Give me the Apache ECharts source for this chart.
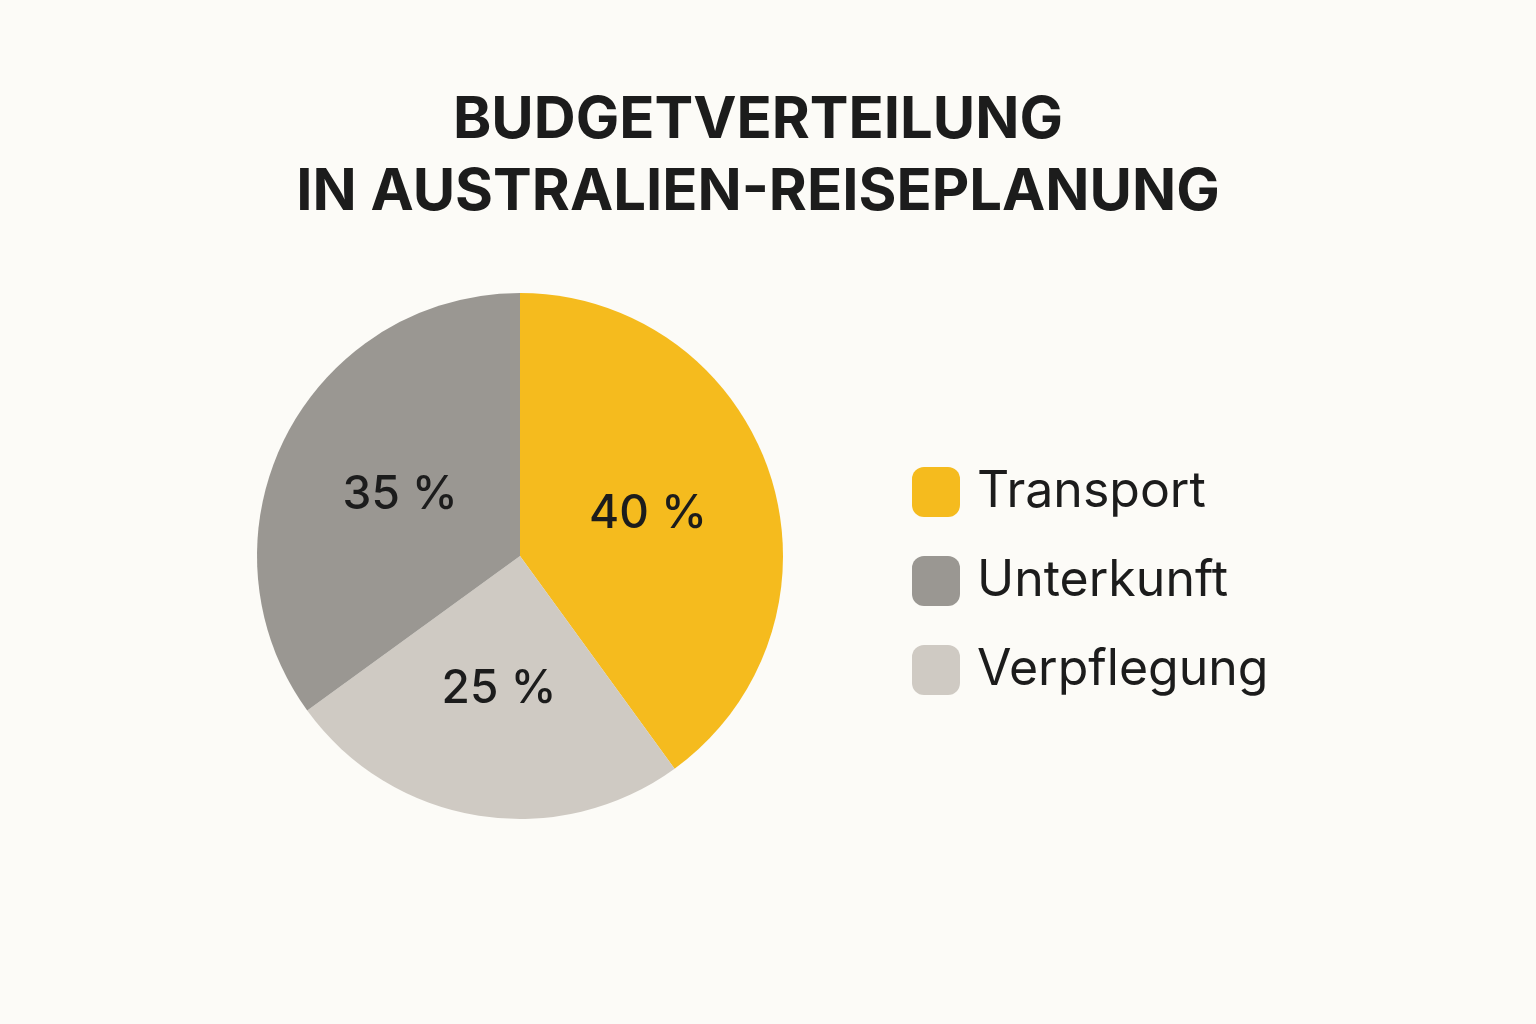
<!DOCTYPE html>
<html>
<head>
<meta charset="utf-8">
<script src="https://cdn.jsdelivr.net/npm/echarts@6/dist/echarts.min.js"></script>
<style>
html,body{margin:0;padding:0;background:#fcfbf7;}
#chart{width:1536px;height:1024px;}
</style>
</head>
<body>
<div id="chart"></div>
<script>
// data, clockwise from 12 o'clock
var categories = ['Transport', 'Verpflegung', 'Unterkunft'];
var values = [40, 25, 35];
var colors = ['#f5bb1e', '#cfcac3', '#9a9792'];
var legendOrder = ['Transport', 'Unterkunft', 'Verpflegung'];

var pieData = [];
for (var i = 0; i < categories.length; ++i) {
    pieData.push({ name: categories[i], value: values[i], itemStyle: { color: colors[i] } });
}

var mychart = echarts.init(document.querySelector('#chart'));
var option = {
    backgroundColor: '#fcfbf7',
    title: {
        text: 'BUDGETVERTEILUNG\nIN AUSTRALIEN-REISEPLANUNG',
        left: 753,
        textAlign: 'center',
        top: 80,
        textStyle: {
            fontFamily: 'Inter',
            fontWeight: 'bold',
            fontSize: 58,
            lineHeight: 72,
            color: '#1c1c1c'
        }
    },
    legend: {
        orient: 'vertical',
        left: 907,
        top: 462,
        itemWidth: 48,
        itemHeight: 50,
        itemGap: 39,
        icon: 'roundRect',
        data: legendOrder,
        textStyle: { fontFamily: 'Inter', fontSize: 50, color: '#1c1c1c', padding: [0, 0, 0, 12] }
    },
    series: [
        {
            type: 'pie',
            center: [520, 556],
            radius: 263,
            startAngle: 90,
            clockwise: true,
            data: pieData,
            label: {
                show: true,
                position: 'inner',
                formatter: '{c} %',
                fontFamily: 'Inter',
                fontSize: 46,
                fontWeight: 500,
                color: '#1c1c1c'
            },
            labelLine: { show: false },
            itemStyle: { borderWidth: 0 }
        }
    ]
};
mychart.setOption(option);
window.addEventListener('resize', function () { mychart.resize(); });
</script>
</body>
</html>
